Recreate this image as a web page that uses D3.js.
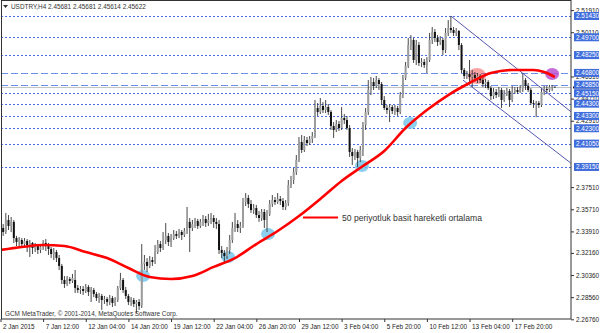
<!DOCTYPE html>
<html>
<head>
<meta charset="utf-8">
<script src="https://cdn.jsdelivr.net/npm/d3@7"></script>
<style>
  body { margin: 0; background: #fff; }
  svg { display: block; font-family: "Liberation Sans", Arial, sans-serif; }
</style>
</head>
<body>
<div id="chart"></div>
<script>
// USDTRY H4 candles, [open, high, low, close]
const candles = [
  [2.3386,2.3468,2.3337,2.3419],[2.3419,2.3451,2.3354,2.3386],[2.3386,2.3541,2.3370,2.3484],[2.3484,2.3524,2.3402,2.3435],
  [2.3435,2.3508,2.3386,2.3468],[2.3468,2.3484,2.3297,2.3337],[2.3337,2.3354,2.3272,2.3305],[2.3305,2.3345,2.3264,2.3321],
  [2.3321,2.3337,2.3256,2.3288],[2.3288,2.3337,2.3264,2.3313],[2.3313,2.3329,2.3223,2.3280],[2.3280,2.3321,2.3183,2.3297],
  [2.3297,2.3305,2.3207,2.3256],[2.3256,2.3297,2.3223,2.3272],[2.3272,2.3288,2.3207,2.3240],[2.3240,2.3288,2.3215,2.3264],
  [2.3264,2.3321,2.3240,2.3297],[2.3297,2.3329,2.3231,2.3272],[2.3272,2.3297,2.3199,2.3248],[2.3248,2.3264,2.3174,2.3207],
  [2.3207,2.3256,2.3158,2.3223],[2.3223,2.3240,2.3142,2.3174],[2.3174,2.3199,2.3077,2.3110],[2.3110,2.3126,2.2963,2.2996],
  [2.2996,2.3028,2.2931,2.2963],[2.2963,2.3028,2.2947,2.3004],[2.3004,2.3020,2.2963,2.2988],[2.2988,2.3045,2.2971,2.3012],
  [2.2996,2.3077,2.2890,2.2931],[2.2931,2.2955,2.2890,2.2914],[2.2914,2.2947,2.2882,2.2922],[2.2922,2.2947,2.2874,2.2906],
  [2.2906,2.2963,2.2890,2.2939],[2.2939,2.2955,2.2866,2.2898],[2.2898,2.2939,2.2817,2.2914],[2.2914,2.2931,2.2857,2.2882],
  [2.2882,2.2898,2.2825,2.2849],[2.2849,2.2890,2.2809,2.2866],[2.2866,2.2882,2.2752,2.2833],[2.2833,2.2866,2.2801,2.2841],
  [2.2841,2.2857,2.2784,2.2817],[2.2817,2.2874,2.2792,2.2849],[2.2849,2.2866,2.2776,2.2809],[2.2809,2.2857,2.2784,2.2833],
  [2.2833,2.2947,2.2817,2.2931],[2.2931,2.3053,2.2914,2.2996],[2.2996,2.3012,2.2890,2.2914],[2.2914,2.2939,2.2841,2.2866],
  [2.2866,2.2882,2.2792,2.2817],[2.2817,2.2857,2.2784,2.2833],[2.2833,2.2849,2.2776,2.2801],[2.2801,2.2833,2.2727,2.2817],
  [2.2817,2.2841,2.2752,2.2784],[2.2792,2.3288,2.2768,2.3126],[2.3126,2.3199,2.3077,2.3142],[2.3142,2.3174,2.3061,2.3110],
  [2.3110,2.3191,2.3093,2.3158],[2.3158,2.3183,2.3110,2.3142],[2.3142,2.3280,2.3126,2.3223],[2.3223,2.3321,2.3207,2.3288],
  [2.3288,2.3313,2.3223,2.3256],[2.3256,2.3386,2.3240,2.3321],[2.3321,2.3459,2.3288,2.3354],[2.3354,2.3378,2.3272,2.3305],
  [2.3305,2.3370,2.3264,2.3337],[2.3337,2.3402,2.3321,2.3370],[2.3370,2.3394,2.3329,2.3354],[2.3354,2.3411,2.3337,2.3386],
  [2.3386,2.3402,2.3321,2.3362],[2.3362,2.3419,2.3345,2.3394],[2.3394,2.3590,2.3370,2.3468],[2.3468,2.3500,2.3223,2.3419],
  [2.3419,2.3484,2.3394,2.3451],[2.3451,2.3500,2.3419,2.3476],[2.3476,2.3492,2.3411,2.3435],[2.3435,2.3492,2.3419,2.3468],
  [2.3468,2.3524,2.3435,2.3492],[2.3492,2.3516,2.3427,2.3459],[2.3459,2.3533,2.3435,2.3484],[2.3484,2.3541,2.3451,2.3500],
  [2.3500,2.3524,2.3419,2.3468],[2.3468,2.3500,2.3411,2.3451],[2.3451,2.3484,2.3207,2.3240],[2.3240,2.3272,2.3174,2.3215],
  [2.3215,2.3240,2.3134,2.3191],[2.3191,2.3264,2.3166,2.3240],[2.3240,2.3362,2.3207,2.3321],[2.3321,2.3468,2.3297,2.3419],
  [2.3419,2.3541,2.3386,2.3451],[2.3451,2.3484,2.3386,2.3419],[2.3419,2.3468,2.3378,2.3435],[2.3435,2.3663,2.3419,2.3630],
  [2.3630,2.3703,2.3598,2.3663],[2.3663,2.3687,2.3581,2.3614],[2.3614,2.3646,2.3541,2.3565],[2.3565,2.3614,2.3533,2.3581],
  [2.3581,2.3606,2.3500,2.3524],[2.3524,2.3557,2.3468,2.3500],[2.3500,2.3573,2.3476,2.3549],[2.3549,2.3573,2.3419,2.3484],
  [2.3484,2.3565,2.3386,2.3533],[2.3533,2.3646,2.3516,2.3614],[2.3614,2.3687,2.3590,2.3646],[2.3646,2.3671,2.3606,2.3630],
  [2.3630,2.3703,2.3614,2.3655],[2.3655,2.3679,2.3606,2.3638],[2.3638,2.3663,2.3565,2.3590],[2.3590,2.3646,2.3565,2.3622],
  [2.3622,2.3809,2.3598,2.3768],[2.3768,2.3842,2.3744,2.3809],[2.3809,2.3907,2.3777,2.3874],[2.3874,2.4012,2.3850,2.3972],
  [2.3972,2.4159,2.3955,2.4118],[2.4118,2.4175,2.4029,2.4053],[2.4053,2.4167,2.4037,2.4134],[2.4134,2.4159,2.4086,2.4110],
  [2.4110,2.4167,2.4094,2.4142],[2.4142,2.4199,2.4110,2.4167],[2.4167,2.4460,2.4151,2.4395],[2.4395,2.4435,2.4330,2.4362],
  [2.4362,2.4476,2.4346,2.4411],[2.4411,2.4443,2.4354,2.4378],[2.4378,2.4460,2.4354,2.4403],[2.4403,2.4427,2.4338,2.4362],
  [2.4362,2.4378,2.4216,2.4248],[2.4248,2.4281,2.4151,2.4216],[2.4216,2.4297,2.4199,2.4264],[2.4264,2.4289,2.4208,2.4232],
  [2.4232,2.4403,2.4216,2.4313],[2.4313,2.4346,2.4264,2.4297],[2.4297,2.4330,2.4216,2.4232],[2.4232,2.4256,2.3996,2.4037],
  [2.4037,2.4069,2.3931,2.4004],[2.4004,2.4061,2.3972,2.4037],[2.4037,2.4053,2.3915,2.3988],[2.3988,2.4086,2.3955,2.4053],
  [2.4053,2.4281,2.4004,2.4256],[2.4256,2.4395,2.4216,2.4362],[2.4362,2.4622,2.4338,2.4541],[2.4541,2.4647,2.4500,2.4606],
  [2.4606,2.4639,2.4541,2.4574],[2.4574,2.4655,2.4557,2.4622],[2.4622,2.4639,2.4541,2.4590],[2.4590,2.4606,2.4419,2.4460],
  [2.4460,2.4492,2.4378,2.4395],[2.4395,2.4419,2.4346,2.4378],[2.4378,2.4427,2.4281,2.4403],[2.4403,2.4419,2.4346,2.4370],
  [2.4370,2.4419,2.4338,2.4395],[2.4395,2.4411,2.4330,2.4362],[2.4362,2.4525,2.4346,2.4500],[2.4500,2.4663,2.4476,2.4639],
  [2.4639,2.4769,2.4622,2.4736],[2.4736,2.4964,2.4720,2.4907],[2.4907,2.4988,2.4866,2.4948],[2.4948,2.4964,2.4761,2.4785],
  [2.4785,2.4948,2.4744,2.4907],[2.4907,2.4931,2.4736,2.4761],[2.4761,2.4801,2.4728,2.4769],[2.4769,2.4793,2.4720,2.4744],
  [2.4744,2.4809,2.4679,2.4785],[2.4785,2.5005,2.4769,2.4948],[2.4948,2.5053,2.4915,2.5013],[2.5013,2.5037,2.4931,2.4964],
  [2.4964,2.4988,2.4899,2.4931],[2.4931,2.4980,2.4907,2.4948],[2.4948,2.4964,2.4826,2.4866],[2.4866,2.5045,2.4842,2.5005],
  [2.5005,2.5110,2.4980,2.5045],[2.5045,2.5143,2.5005,2.5029],[2.5029,2.5053,2.4980,2.5005],[2.5005,2.5045,2.4980,2.5021],
  [2.5021,2.5029,2.4866,2.4907],[2.4907,2.4923,2.4679,2.4704],[2.4704,2.4720,2.4631,2.4655],[2.4655,2.4696,2.4631,2.4671],
  [2.4671,2.4785,2.4606,2.4647],[2.4647,2.4704,2.4565,2.4663],[2.4663,2.4687,2.4614,2.4639],[2.4639,2.4679,2.4598,2.4655],
  [2.4655,2.4671,2.4598,2.4622],[2.4622,2.4647,2.4565,2.4590],[2.4590,2.4631,2.4557,2.4606],[2.4606,2.4622,2.4541,2.4557],
  [2.4557,2.4574,2.4460,2.4492],[2.4492,2.4557,2.4468,2.4525],[2.4525,2.4549,2.4476,2.4500],[2.4500,2.4565,2.4484,2.4541],
  [2.4541,2.4557,2.4395,2.4460],[2.4460,2.4541,2.4443,2.4509],[2.4509,2.4557,2.4492,2.4533],[2.4533,2.4549,2.4403,2.4460],
  [2.4460,2.4574,2.4443,2.4525],[2.4525,2.4565,2.4509,2.4541],[2.4541,2.4565,2.4509,2.4525],[2.4525,2.4582,2.4517,2.4557],
  [2.4557,2.4679,2.4525,2.4622],[2.4622,2.4639,2.4541,2.4574],[2.4574,2.4598,2.4525,2.4541],[2.4541,2.4557,2.4419,2.4435],
  [2.4435,2.4460,2.4395,2.4427],[2.4427,2.4452,2.4321,2.4435],[2.4435,2.4452,2.4395,2.4419],[2.4419,2.4557,2.4403,2.4525],
  [2.4525,2.4574,2.4500,2.4549],[2.4549,2.4574,2.4517,2.4541],[2.4541,2.4582,2.4525,2.4565],[2.4565,2.4582,2.4533,2.4568],
  [2.45681,2.45681,2.45614,2.45622]
];

// 50 period simple moving average, read every 8 bars [bar, price]
const maPoints = [
  [0,2.3240],[8,2.3264],[16,2.3280],[24,2.3272],[32,2.3223],[40,2.3174],[48,2.3093],[56,2.3020],
  [64,2.3004],[72,2.3028],[80,2.3102],[88,2.3174],[96,2.3288],[104,2.3394],[112,2.3516],[120,2.3655],
  [128,2.3801],[136,2.3923],[144,2.4045],[152,2.4232],[160,2.4378],[168,2.4500],[176,2.4598],[184,2.4679],
  [192,2.4704],[200,2.4704],[204,2.4687],[208,2.4647]
];

const dottedLevels = [2.51430, 2.49700, 2.48250, 2.45150, 2.44300, 2.43300, 2.42300, 2.41050, 2.39150];
const dashedLevels = [2.46800, 2.45850];
// scale labels that are not fully covered by the level labels
const tickPrices = [2.51910, 2.50110, 2.46510, 2.44710, 2.42910,
                    2.37510, 2.35710, 2.33910, 2.32160, 2.30360, 2.28560, 2.26760];
const dateLabels = ["2 Jan 2015", "7 Jan 12:00", "12 Jan 04:00", "14 Jan 20:00", "19 Jan 12:00",
                    "22 Jan 04:00", "26 Jan 20:00", "29 Jan 12:00", "3 Feb 04:00", "5 Feb 20:00",
                    "10 Feb 12:00", "13 Feb 04:00", "17 Feb 20:00"];
const upperChannel = [[169, 2.5143], [214, 2.4365]];
const lowerChannel = [[173.5, 2.4622], [214, 2.3947]];
const maTouches = [[53.5, 2.3028], [85.4, 2.3183], [100.4, 2.3370], [135.6, 2.3923], [153.7, 2.4273]];
const redMark = [178.8, 2.4655];
const purpleMark = [207, 2.4671];
const lastBar = "2.45681 2.45681 2.45614 2.45622";

const width = 600;
const height = 333;
const plotRight = 571;
const plotBottom = 319;

const svg = d3.select("#chart")
    .append("svg")
    .attr("width", width)
    .attr("height", height);

const x = d3.scaleLinear().domain([0, 214]).range([0.5, 0.5 + 2.665 * 214]);
const y = d3.scaleLinear().domain([2.2676, 2.5143]).range([319.3, 16]);

svg.append("clipPath").attr("id", "plot")
    .append("rect").attr("x", 1).attr("y", 1).attr("width", plotRight - 1).attr("height", plotBottom - 1);

const plot = svg.append("g").attr("clip-path", "url(#plot)");

// horizontal levels
plot.selectAll("line.dot").data(dottedLevels).join("line")
    .attr("class", "dot")
    .attr("x1", 1).attr("x2", plotRight)
    .attr("y1", d => Math.round(y(d)) + 0.5).attr("y2", d => Math.round(y(d)) + 0.5)
    .attr("stroke", "#4a6fe0").attr("stroke-width", 1).attr("stroke-dasharray", "2,2");

plot.selectAll("line.dash").data(dashedLevels).join("line")
    .attr("class", "dash")
    .attr("x1", 1).attr("x2", plotRight)
    .attr("y1", d => Math.round(y(d)) + 0.5).attr("y2", d => Math.round(y(d)) + 0.5)
    .attr("stroke", "#6b8ee8").attr("stroke-width", 1).attr("stroke-dasharray", "7,3");

// bid line
plot.append("line")
    .attr("x1", 1).attr("x2", plotRight)
    .attr("y1", Math.round(y(candles[candles.length - 1][3])) + 0.5)
    .attr("y2", Math.round(y(candles[candles.length - 1][3])) + 0.5)
    .attr("stroke", "#c4c4c4");

// highlight ellipses
plot.selectAll("ellipse.touch").data(maTouches).join("ellipse")
    .attr("class", "touch")
    .attr("cx", d => x(d[0])).attr("cy", d => y(d[1]))
    .attr("rx", 7).attr("ry", 6)
    .attr("fill", "#6fc2e8").attr("opacity", 0.8);

plot.append("ellipse")
    .attr("cx", x(redMark[0])).attr("cy", y(redMark[1]))
    .attr("rx", 9).attr("ry", 8)
    .attr("fill", "#f24848").attr("opacity", 0.5);

plot.append("ellipse")
    .attr("cx", x(purpleMark[0])).attr("cy", y(purpleMark[1]))
    .attr("rx", 7).attr("ry", 6)
    .attr("fill", "#bb52d2").attr("opacity", 0.85);

// candles
const bars = candles.map((c, i) => ({i: i, o: c[0], h: c[1], l: c[2], c: c[3]}));

plot.selectAll("line.wick").data(bars).join("line")
    .attr("class", "wick")
    .attr("x1", d => x(d.i)).attr("x2", d => x(d.i))
    .attr("y1", d => y(d.h)).attr("y2", d => y(d.l))
    .attr("stroke", "#333").attr("stroke-width", 0.9);

plot.selectAll("rect.body").data(bars).join("rect")
    .attr("class", "body")
    .attr("x", d => x(d.i) - 1)
    .attr("width", 2)
    .attr("y", d => y(Math.max(d.o, d.c)))
    .attr("height", d => Math.max(0.8, Math.abs(y(d.o) - y(d.c))))
    .attr("fill", d => d.c >= d.o ? "#9c9c9c" : "#111");

// channel
const chanLine = d3.line().x(d => x(d[0])).y(d => y(d[1]));
plot.selectAll("path.channel").data([upperChannel, lowerChannel]).join("path")
    .attr("class", "channel")
    .attr("d", chanLine)
    .attr("fill", "none").attr("stroke", "#5656b0").attr("stroke-width", 1);

// moving average
plot.append("path")
    .datum(maPoints)
    .attr("d", d3.line().x(d => x(d[0])).y(d => y(d[1])).curve(d3.curveMonotoneX))
    .attr("fill", "none").attr("stroke", "#ff0000").attr("stroke-width", 2.6);

// frame
svg.append("rect")
    .attr("x", 1.5).attr("y", 0.5)
    .attr("width", plotRight - 1.5).attr("height", plotBottom - 0.5)
    .attr("fill", "none").attr("stroke", "#333");

// price axis
const yAxis = svg.append("g")
    .attr("transform", `translate(${plotRight}, 0)`)
    .call(d3.axisRight(y).tickValues(tickPrices).tickSize(3).tickPadding(2).tickFormat(d3.format(".5f")));
yAxis.select(".domain").remove();
yAxis.selectAll("text").style("font-size", "6.4px").attr("fill", "#222");
yAxis.selectAll("line").attr("stroke", "#333");

// bid label and highlighted level labels
svg.append("rect")
    .attr("x", plotRight + 2).attr("y", y(candles[candles.length - 1][3]) - 1)
    .attr("width", 26).attr("height", 2).attr("fill", "#222");

const hl = svg.selectAll("g.hl").data(dottedLevels.concat(dashedLevels)).join("g")
    .attr("class", "hl")
    .attr("transform", d => `translate(${plotRight + 3}, ${y(d)})`);
hl.append("rect")
    .attr("x", 0).attr("y", -4).attr("width", 25).attr("height", 8)
    .attr("fill", "#3f6ddc");
hl.append("text")
    .attr("x", 2).attr("y", 2.3)
    .style("font-size", "6.4px").attr("fill", "#fff")
    .text(d => d3.format(".5f")(d));

// time axis
const xAxis = svg.append("g")
    .attr("transform", `translate(0, ${plotBottom})`)
    .call(d3.axisBottom(x).tickValues(d3.range(0, 193, 16)).tickSize(3)
        .tickFormat((d, i) => dateLabels[i]));
xAxis.select(".domain").remove();
xAxis.selectAll("line").attr("stroke", "#333");
xAxis.selectAll("text")
    .attr("text-anchor", "start").attr("dx", 2).attr("y", 5)
    .style("font-size", "6.4px").attr("fill", "#222");

// title
svg.append("path").attr("d", "M3,5 L8,5 L5.5,8 Z").attr("fill", "#333");
svg.append("text")
    .attr("x", 11).attr("y", 9.2)
    .style("font-size", "6.4px").attr("fill", "#333")
    .text("USDTRY,H4  " + lastBar);

// copyright
svg.append("text")
    .attr("x", 5).attr("y", 316)
    .style("font-size", "6.4px").attr("fill", "#333")
    .text("GCM MetaTrader, \u00a9 2001-2014, MetaQuotes Software Corp.");

// legend
svg.append("line")
    .attr("x1", 303).attr("x2", 338).attr("y1", 217.5).attr("y2", 217.5)
    .attr("stroke", "#ff0000").attr("stroke-width", 2);
svg.append("text")
    .attr("x", 342).attr("y", 220.5)
    .style("font-size", "8.6px").attr("fill", "#333")
    .text("50 periyotluk basit hareketli ortalama");
</script>
</body>
</html>
